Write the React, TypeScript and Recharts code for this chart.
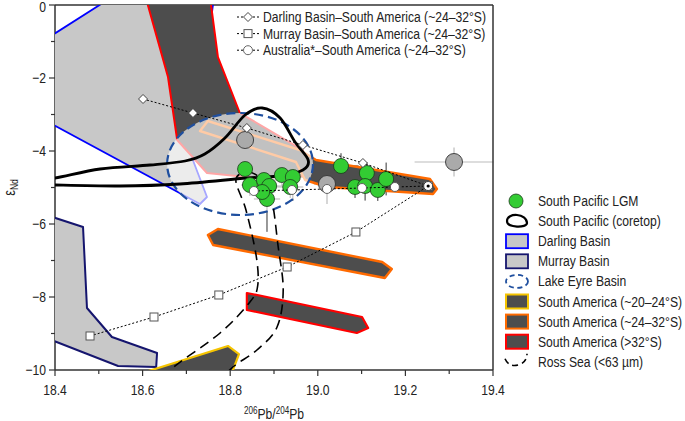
import React from 'react';
import { ComposedChart, Scatter, XAxis, YAxis, ErrorBar, ReferenceLine, Label, Customized } from 'recharts';

const FONT = "'Liberation Sans', Arial, Helvetica, sans-serif";
const SX = 0.81; // the figure uses a condensed sans; squeeze the glyphs horizontally

const xTicks = [18.4, 18.5, 18.6, 18.7, 18.8, 18.9, 19.0, 19.1, 19.2, 19.3, 19.4];
const yTicks = [-10, -9, -8, -7, -6, -5, -4, -3, -2, -1, 0];

// source fields, outlines (206Pb/204Pb, eNd)
const darlingBasin = [
  { x: 18.38, y: -0.932 }, { x: 18.541, y: 0.3 }, { x: 18.764, y: 0.3 }, { x: 18.713, y: -4.192 },
  { x: 18.747, y: -5.26 }, { x: 18.731, y: -5.452 }, { x: 18.38, y: -3.178 },
];
const murrayBasin = [
  { x: 18.38, y: -5.753 }, { x: 18.464, y: -6.082 }, { x: 18.473, y: -8.301 }, { x: 18.53, y: -9.096 },
  { x: 18.633, y: -9.534 }, { x: 18.631, y: -9.918 }, { x: 18.544, y: -9.89 }, { x: 18.38, y: -9.123 },
];
const saAbove32 = [
  { x: 18.605, y: 0.3 }, { x: 18.753, y: 0.3 }, { x: 18.772, y: -1.425 }, { x: 18.822, y: -2.959 },
  { x: 18.966, y: -3.973 }, { x: 18.971, y: -4.685 }, { x: 18.861, y: -4.74 }, { x: 18.747, y: -4.603 },
  { x: 18.679, y: -3.699 }, { x: 18.658, y: -1.973 },
];
const saAbove32Low = [
  { x: 18.838, y: -7.89 }, { x: 19.101, y: -8.548 }, { x: 19.115, y: -8.849 }, { x: 19.089, y: -8.986 },
  { x: 18.838, y: -8.356 },
];
const sa24to32 = [
  { x: 18.749, y: -3.178 }, { x: 18.959, y: -3.973 }, { x: 18.996, y: -4.247 }, { x: 19.256, y: -4.767 },
  { x: 19.272, y: -5.041 }, { x: 19.263, y: -5.178 }, { x: 19.021, y: -4.986 }, { x: 18.971, y: -4.795 },
  { x: 18.95, y: -4.301 }, { x: 18.731, y: -3.452 },
];
const sa24to32Low = [
  { x: 18.749, y: -6.301 }, { x: 18.772, y: -6.137 }, { x: 19.147, y: -7.041 }, { x: 19.169, y: -7.233 },
  { x: 19.153, y: -7.479 }, { x: 18.761, y: -6.575 },
];
const sa20to24 = [
  { x: 18.542, y: -10.3 }, { x: 18.795, y: -9.342 }, { x: 18.82, y: -9.562 }, { x: 18.797, y: -10.3 },
];
// left, right, top, bottom extremes of the Lake Eyre field
const lakeEyre = [
  { x: 18.656, y: -4.356 }, { x: 18.989, y: -4.356 }, { x: 18.822, y: -2.959 }, { x: 18.822, y: -5.753 },
];
const rossSea = [
  { x: 18.841, y: -4.575 }, { x: 18.873, y: -4.795 }, { x: 18.895, y: -5.342 }, { x: 18.909, y: -6.575 },
  { x: 18.921, y: -7.808 }, { x: 18.907, y: -8.822 }, { x: 18.861, y: -9.452 }, { x: 18.806, y: -9.918 },
  { x: 18.765, y: -10.411 }, { x: 18.685, y: -10.822 }, { x: 18.628, y: -10.603 }, { x: 18.663, y: -10.0 },
  { x: 18.777, y: -8.986 }, { x: 18.845, y: -8.137 }, { x: 18.863, y: -7.671 }, { x: 18.859, y: -6.849 },
  { x: 18.836, y: -5.616 }, { x: 18.813, y: -4.795 },
];
const coretop = [
  { x: 18.343, y: -4.822 }, { x: 18.4, y: -4.74 }, { x: 18.503, y: -4.493 }, { x: 18.617, y: -4.384 },
  { x: 18.697, y: -4.274 }, { x: 18.742, y: -4.082 }, { x: 18.788, y: -3.644 }, { x: 18.834, y: -3.014 },
  { x: 18.873, y: -2.822 }, { x: 18.914, y: -3.096 }, { x: 18.948, y: -3.753 }, { x: 18.978, y: -4.247 },
  { x: 18.966, y: -4.521 }, { x: 18.914, y: -4.685 }, { x: 18.838, y: -4.74 }, { x: 18.685, y: -4.904 },
  { x: 18.548, y: -4.959 }, { x: 18.4, y: -4.932 }, { x: 18.343, y: -4.904 },
];

// mixing lines
const darlingMix = [
  { x: 18.601, y: -2.575 }, { x: 18.715, y: -2.959 }, { x: 18.838, y: -3.37 }, { x: 18.966, y: -3.836 },
  { x: 19.103, y: -4.329 }, { x: 19.252, y: -4.959 },
];
const murrayMix = [
  { x: 18.48, y: -9.068 }, { x: 18.626, y: -8.548 }, { x: 18.774, y: -7.945 }, { x: 18.93, y: -7.178 },
  { x: 19.087, y: -6.219 }, { x: 19.252, y: -4.959 },
];
const australiaMix = [
  { x: 18.854, y: -5.096 }, { x: 18.941, y: -5.068 }, { x: 19.021, y: -5.041 }, { x: 19.101, y: -5.014 },
  { x: 19.176, y: -4.986 }, { x: 19.252, y: -4.959 },
];
const mixEnd = [{ x: 19.252, y: -4.959 }];

// samples with 2 sigma errors
const lgmPoints = [
  { x: 18.834, y: -4.493, ex: 0.07, ey: 0.35 },
  { x: 18.845, y: -4.932, ex: 0.02, ey: 0.3 },
  { x: 18.877, y: -4.795, ex: 0.03, ey: 0.3 },
  { x: 18.889, y: -4.959, ex: 0.03, ey: 0.3 },
  { x: 18.884, y: -5.315, ex: 0.03, ey: 0.9 },
  { x: 18.918, y: -4.658, ex: 0.05, ey: 0.3 },
  { x: 18.943, y: -4.712, ex: 0.025, ey: 0.65 },
  { x: 18.937, y: -4.986, ex: 0.03, ey: 0.3 },
  { x: 19.053, y: -4.411, ex: 0.04, ey: 0.35 },
  { x: 19.112, y: -4.603, ex: 0.03, ey: 0.3 },
  { x: 19.085, y: -4.986, ex: 0.05, ey: 0.3 },
  { x: 19.108, y: -4.959, ex: 0.03, ey: 0.4 },
  { x: 19.137, y: -5.068, ex: 0.03, ey: 0.3 },
  { x: 19.156, y: -4.767, ex: 0.03, ey: 0.45 },
  { x: 18.873, y: -5.123, ex: 0.03, ey: 0.3 },
];
const grayPoints = [
  { x: 18.834, y: -3.699, ex: 0, ey: 0.6 },
  { x: 19.021, y: -4.904, ex: 0.03, ey: 0.55 },
  { x: 19.311, y: -4.301, ex: 0.09, ey: 0.4 },
];

const topLabels = [
  'Darling Basin–South America (~24–32°S)',
  'Murray Basin–South America (~24–32°S)',
  'Australia*–South America (~24–32°S)',
];
const rightLabels = [
  'South Pacific LGM',
  'South Pacific (coretop)',
  'Darling Basin',
  'Murray Basin',
  'Lake Eyre Basin',
  'South America (~20–24°S)',
  'South America (~24–32°S)',
  'South America (>32°S)',
  'Ross Sea (<63 µm)',
];

const GRAY = '#c8c8c8';
const DARK = '#4d4d4d';

const T = ({ x, y, anchor = 'start', size = 15, rotate = 0, children }: any) => (
  <text
    transform={`translate(${x},${y}) rotate(${rotate}) scale(${SX},1)`}
    textAnchor={anchor}
    fontSize={size}
    fontFamily={FONT}
    fill="#222"
  >
    {children}
  </text>
);

const noDot = () => <g />;

const polygon = (fill: string, stroke: string, width: number) => (p: any) => {
  const pts = p.points as { x: number; y: number }[];
  const d = pts.map((q, i) => `${i ? 'L' : 'M'}${q.x},${q.y}`).join(' ') + ' Z';
  return <path d={d} fill={fill} stroke={stroke} strokeWidth={width} strokeLinejoin="round" />;
};

const smoothPath = (pts: { x: number; y: number }[]) => {
  const n = pts.length;
  let d = `M${pts[0].x},${pts[0].y}`;
  for (let i = 0; i < n; i++) {
    const p0 = pts[(i - 1 + n) % n];
    const p1 = pts[i];
    const p2 = pts[(i + 1) % n];
    const p3 = pts[(i + 2) % n];
    d += ` C${p1.x + (p2.x - p0.x) / 6},${p1.y + (p2.y - p0.y) / 6} ${p2.x - (p3.x - p1.x) / 6},${p2.y - (p3.y - p1.y) / 6} ${p2.x},${p2.y}`;
  }
  return d + ' Z';
};

const smoothLoop = (stroke: string, width: number, dash?: string) => (p: any) => (
  <path d={smoothPath(p.points)} fill="none" stroke={stroke} strokeWidth={width} strokeDasharray={dash} />
);

const ellipseShape = (p: any) => {
  const [l, r, t, b] = p.points;
  return (
    <ellipse
      cx={(l.x + r.x) / 2}
      cy={(t.y + b.y) / 2}
      rx={(r.x - l.x) / 2}
      ry={(b.y - t.y) / 2}
      fill="#fff"
      fillOpacity={0.65}
      stroke="#1f4f9f"
      strokeWidth={2.2}
      strokeDasharray="9 5"
    />
  );
};

const diamond = (cx: number, cy: number) => (
  <path d={`M${cx},${cy - 4.5} L${cx + 4.5},${cy} L${cx},${cy + 4.5} L${cx - 4.5},${cy} Z`} fill="#fff" stroke="#333" strokeWidth={0.9} />
);
const square = (cx: number, cy: number) => (
  <rect x={cx - 4} y={cy - 4} width={8} height={8} fill="#fff" stroke="#555" strokeWidth={1} />
);
const ring = (cx: number, cy: number) => <circle cx={cx} cy={cy} r={4.5} fill="#fff" stroke="#555" strokeWidth={0.9} />;

const XTick = ({ x, y, payload }: any) => {
  const major = Math.round(payload.value * 10) % 2 === 0;
  return (
    <g>
      <line x1={x} x2={x} y1={y} y2={y + (major ? 6 : 4)} stroke="#333" strokeWidth={1.2} />
      {major && <T x={x} y={y + 25} anchor="middle">{payload.value.toFixed(1)}</T>}
    </g>
  );
};

const YTick = ({ x, y, payload }: any) => {
  const major = payload.value % 2 === 0;
  const label = payload.value === 0 ? '0' : `\u2212${Math.abs(payload.value)}`;
  return (
    <g>
      <line x1={x - (major ? 6 : 4)} x2={x} y1={y} y2={y} stroke="#333" strokeWidth={1.2} />
      {major && <T x={x - 9} y={Math.max(y + 5, 11.5)} anchor="end">{label}</T>}
    </g>
  );
};

const XTitle = (props: any) => {
  const { x, y, width } = props.viewBox;
  return (
    <T x={x + width / 2} y={y + 49} anchor="middle">
      <tspan fontSize={10} dy={-5}>206</tspan>
      <tspan dy={5}>Pb/</tspan>
      <tspan fontSize={10} dy={-5}>204</tspan>
      <tspan dy={5}>Pb</tspan>
    </T>
  );
};

const YTitle = (props: any) => {
  const { y, height } = props.viewBox;
  return (
    <T x={15} y={y + height / 2} anchor="middle" size={16} rotate={-90}>
      ε<tspan fontSize={10.5} dy={3}>Nd</tspan>
    </T>
  );
};

const Legends = () => {
  const y0 = 201;
  const dy = 20.1;
  const row = (i: number) => y0 + i * dy;
  const markers = [diamond, square, ring];
  return (
    <g>
      {topLabels.map((t, i) => {
        const cy = 17 + i * 16.6;
        return (
          <g key={t}>
            <line x1={237} x2={259} y1={cy} y2={cy} stroke="#000" strokeWidth={1} strokeDasharray="2 2" />
            {markers[i](248, cy)}
            <T x={263} y={cy + 5}>{t}</T>
          </g>
        );
      })}
      {rightLabels.map((t, i) => (
        <T key={t} x={538} y={row(i) + 5}>{t}</T>
      ))}
      <circle cx={516} cy={row(0)} r={7} fill="#33cc33" stroke="#1a3a1a" strokeWidth={0.8} />
      <path d={`M507,${row(1)} C507,${row(1) - 9} 527,${row(1) - 8} 527,${row(1) + 2} C527,${row(1) + 7} 507,${row(1) + 7} 507,${row(1)} Z`} fill="none" stroke="#000" strokeWidth={2.2} />
      <rect x={506} y={row(2) - 7} width={22} height={14} fill={GRAY} stroke="#0000ff" strokeWidth={1.8} />
      <rect x={506} y={row(3) - 7} width={22} height={14} fill={GRAY} stroke="#15156e" strokeWidth={1.8} />
      <ellipse cx={517} cy={row(4)} rx={11} ry={6.5} fill="#fff" stroke="#1f4f9f" strokeWidth={1.8} strokeDasharray="5 3.5" />
      <rect x={506} y={row(5) - 7} width={22} height={14} fill={DARK} stroke="#f5c400" strokeWidth={2} />
      <rect x={506} y={row(6) - 7} width={22} height={14} fill={DARK} stroke="#ff6a00" strokeWidth={2} />
      <rect x={506} y={row(7) - 7} width={22} height={14} fill={DARK} stroke="#ff0000" strokeWidth={2} />
      <path d={`M505,${row(8) - 3} Q509,${row(8) + 6} 519,${row(8) + 3} Q527,${row(8)} 527,${row(8) - 8}`} fill="none" stroke="#000" strokeWidth={1.6} strokeDasharray="6 4" />
    </g>
  );
};

export default function App() {
  return (
    <div style={{ position: 'absolute', left: 0, top: 0, fontFamily: FONT }}>
      <ComposedChart width={685} height={421} margin={{ top: 5, right: 192, bottom: 21, left: 5 }}>
        <XAxis
          type="number"
          dataKey="x"
          domain={[18.4, 19.4]}
          allowDataOverflow
          ticks={xTicks}
          interval={0}
          height={30}
          tickLine={false}
          tickSize={0}
          tickMargin={0}
          tick={XTick}
          axisLine={{ stroke: '#333', strokeWidth: 1.5 }}
        >
          <Label content={XTitle} />
        </XAxis>
        <YAxis
          type="number"
          dataKey="y"
          domain={[-10, 0]}
          allowDataOverflow
          ticks={yTicks}
          interval={0}
          width={50}
          tickLine={false}
          tickSize={0}
          tickMargin={0}
          tick={YTick}
          axisLine={{ stroke: '#333', strokeWidth: 1.5 }}
        >
          <Label content={YTitle} />
        </YAxis>

        <Scatter data={darlingBasin} shape={noDot} line={polygon(GRAY, '#0000ff', 1.8)} isAnimationActive={false} />
        <Scatter data={murrayBasin} shape={noDot} line={polygon(GRAY, '#15156e', 2)} isAnimationActive={false} />
        <Scatter data={saAbove32} shape={noDot} line={polygon(DARK, '#ff0000', 2)} isAnimationActive={false} />
        <Scatter data={saAbove32Low} shape={noDot} line={polygon(DARK, '#ff0000', 2.2)} isAnimationActive={false} />
        <Scatter data={sa24to32} shape={noDot} line={polygon(DARK, '#ff6a00', 2.4)} isAnimationActive={false} />
        <Scatter data={sa24to32Low} shape={noDot} line={polygon(DARK, '#ff6a00', 2.4)} isAnimationActive={false} />
        <Scatter data={sa20to24} shape={noDot} line={polygon(DARK, '#f5c400', 2.2)} isAnimationActive={false} />
        <Scatter data={lakeEyre} shape={noDot} line={ellipseShape} isAnimationActive={false} />
        <Scatter data={rossSea} shape={noDot} line={smoothLoop('#000', 1.6, '10 6')} isAnimationActive={false} />
        <Scatter data={coretop} shape={noDot} line={smoothLoop('#000', 2.8)} isAnimationActive={false} />

        <Scatter
          data={grayPoints}
          shape={(p: any) => <circle cx={p.cx} cy={p.cy} r={8.5} fill="#aaaaaa" stroke="#333" strokeWidth={0.9} />}
          isAnimationActive={false}
        >
          <ErrorBar dataKey="ex" direction="x" width={0} stroke="#bbbbbb" strokeWidth={1.2} />
          <ErrorBar dataKey="ey" direction="y" width={0} stroke="#bbbbbb" strokeWidth={1.2} />
        </Scatter>
        <Scatter
          data={lgmPoints}
          shape={(p: any) => <circle cx={p.cx} cy={p.cy} r={7.5} fill="#33cc33" stroke="#1a3a1a" strokeWidth={0.8} />}
          isAnimationActive={false}
        >
          <ErrorBar dataKey="ex" direction="x" width={0} stroke="#333" strokeWidth={1} />
          <ErrorBar dataKey="ey" direction="y" width={0} stroke="#333" strokeWidth={1} />
        </Scatter>

        <Scatter data={darlingMix} shape={(p: any) => diamond(p.cx, p.cy)} line={{ stroke: '#000', strokeWidth: 1, strokeDasharray: '2 2' }} lineJointType="linear" isAnimationActive={false} />
        <Scatter data={murrayMix} shape={(p: any) => square(p.cx, p.cy)} line={{ stroke: '#000', strokeWidth: 1, strokeDasharray: '2 2' }} lineJointType="linear" isAnimationActive={false} />
        <Scatter data={australiaMix} shape={(p: any) => ring(p.cx, p.cy)} line={{ stroke: '#000', strokeWidth: 1, strokeDasharray: '2 2' }} lineJointType="linear" isAnimationActive={false} />
        <Scatter
          data={mixEnd}
          shape={(p: any) => (
            <g>
              <circle cx={p.cx} cy={p.cy} r={4.5} fill="#fff" stroke="#333" strokeWidth={0.9} />
              <circle cx={p.cx} cy={p.cy} r={1.6} fill="#000" />
            </g>
          )}
          isAnimationActive={false}
        />

        <ReferenceLine y={0} stroke="#333" strokeWidth={1.5} />
        <ReferenceLine x={19.4} stroke="#333" strokeWidth={1.5} />
        <Customized component={Legends} />
      </ComposedChart>
    </div>
  );
}
